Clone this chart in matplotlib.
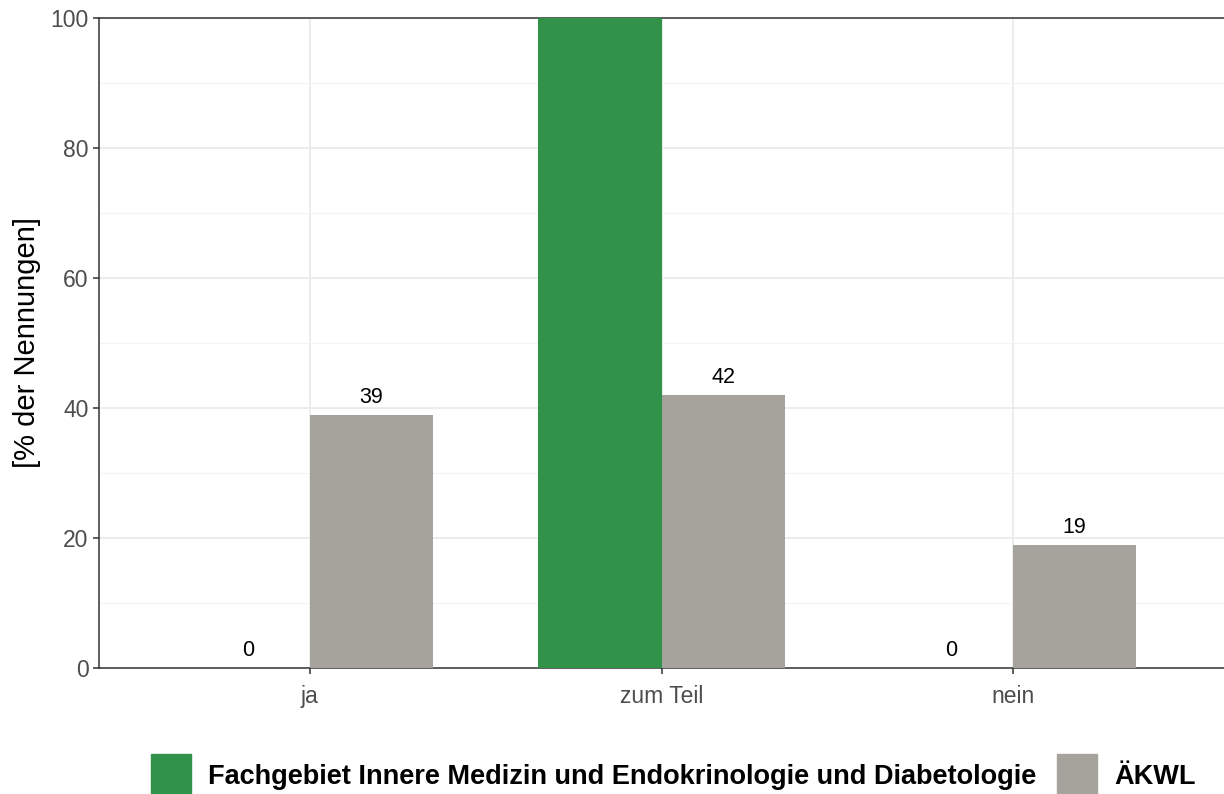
import numpy as np
import matplotlib
matplotlib.use("Agg")
import matplotlib.pyplot as plt
from matplotlib.patches import Patch

categories = ["ja", "zum Teil", "nein"]
series_names = ["Fachgebiet Innere Medizin und Endokrinologie und Diabetologie", "ÄKWL"]
fach_values = [0, 100, 0]
akwl_values = [39, 42, 19]

GREEN = "#31924A"
GREY = "#A6A39C"

plt.rcParams["font.family"] = ["Liberation Sans", "DejaVu Sans"]

fig = plt.figure(figsize=(12.24, 7.94), dpi=100)
ax = fig.add_axes([99 / 1224, 1 - 668 / 794, 1 - 99 / 1224, (668 - 18) / 794])

x = np.arange(len(categories))
w = 0.35
b1 = ax.bar(x - w / 2, fach_values, w, color=GREEN, zorder=3)
b2 = ax.bar(x + w / 2, akwl_values, w, color=GREY, zorder=3)

# value labels; the one for the 100 % bar falls outside the panel (as in the original)
for bars, vals in ((b1, fach_values), (b2, akwl_values)):
    for rect, v in zip(bars, vals):
        if v >= 100:
            continue
        ax.annotate(f"{v}", (rect.get_x() + rect.get_width() / 2, v),
                    xytext=(0, 12.5), textcoords="offset points",
                    ha="center", va="center", fontsize=15.5, color="black",
                    zorder=4)

ax.set_xlim(-0.6, 2.6)
ax.set_ylim(0, 100)
ax.set_xticks(x)
ax.set_xticklabels(categories)
ax.set_yticks(np.arange(0, 101, 20))
ax.set_yticks(np.arange(10, 100, 20), minor=True)
ax.grid(True, which="major", color="#EBEBEB", lw=1.3, zorder=0)
ax.grid(True, which="minor", axis="y", color="#F3F3F3", lw=0.8, zorder=0)
ax.tick_params(axis="both", which="major", labelsize=16.5, labelcolor="#4D4D4D",
               color="#333333", length=4, width=1.1)
ax.tick_params(axis="y", which="minor", length=0)
ax.tick_params(axis="x", pad=8.5)
for s in ("left", "bottom", "top"):
    ax.spines[s].set_color("#333333")
    ax.spines[s].set_linewidth(1.1)
ax.spines["right"].set_visible(False)
ax.set_ylabel("[% der Nennungen]", fontsize=21, color="black", labelpad=7)

handles = [Patch(color=GREEN), Patch(color=GREY)]
fig.legend(handles, series_names, loc="center", bbox_to_anchor=(673 / 1224, 1 - 775 / 794),
           ncol=2, frameon=False, prop={"weight": "bold", "size": 19.5},
           handlelength=1.5, handleheight=2.0, handletextpad=0.62, columnspacing=0.75,
           borderpad=0)

fig.savefig("out.png", dpi=100, facecolor="white")
